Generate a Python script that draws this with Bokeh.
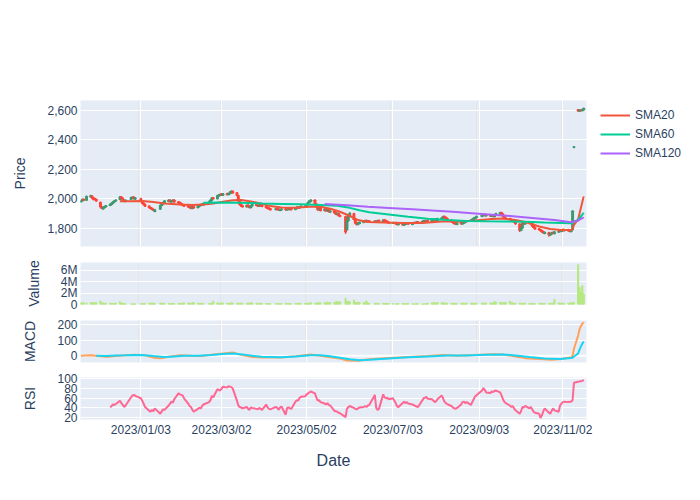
import pandas as pd
from bokeh.plotting import figure
from bokeh.layouts import column
from bokeh.models import (Range1d, FixedTicker, Grid, Legend, LegendItem,
                          NumeralTickFormatter, DatetimeTickFormatter, ColumnDataSource, Span)
from bokeh.embed import file_html
from bokeh.resources import INLINE

# ---------------- data ----------------
holidays = ["2022-11-24", "2022-12-26", "2023-01-02", "2023-01-16", "2023-02-20",
            "2023-04-07", "2023-05-29", "2023-06-19", "2023-07-04", "2023-09-04"]
dates = pd.bdate_range("2022-11-21", "2023-11-17", freq="C", holidays=holidays)

open_ = [
    1980, 1985, 1995, 1990, 2012, 2018, 2005,
    2000, 1995, 1975, 1945, 1932, 1940, 1946, 1955, 1962, 1970, 1978, 1985, 1995, 2012, 2003, 1988, 1983, 1995, 2005, 2010, 1998,
    2000, 1985, 1970, 1960, 1950, 1940, 1935, 1928, 1915, 1930, 1955, 1965, 1975, 1982, 1990, 1978, 1983, 1990, 1978, 1975,
    1968, 1962, 1956, 1952, 1946, 1942, 1935, 1946, 1940, 1948, 1955, 1963, 1958, 1966, 1978, 1990, 2006, 2000, 2018,
    2025, 2032, 2025, 2034, 2028, 2035, 2040, 2050, 2040, 2020, 1985, 1962, 1952, 1945, 1956, 1948, 1940, 1952, 1960, 1956, 1950, 1960, 1953,
    1948, 1942, 1936, 1932, 1926, 1934, 1929, 1921, 1925, 1931, 1924, 1932, 1926, 1933, 1928, 1935, 1943, 1938, 1944,
    1950, 1945, 1960, 1975, 1982, 1990, 1965, 1945, 1925, 1940, 1920, 1930, 1918, 1925, 1910, 1915, 1905, 1893, 1900, 1886, 1878, 1790,
    1850, 1885, 1898, 1860, 1838, 1826, 1833, 1840, 1848, 1853, 1844, 1850, 1841, 1850, 1844, 1853, 1847, 1856, 1851, 1846, 1841,
    1834, 1838, 1831, 1824, 1829, 1821, 1827, 1831, 1836, 1827, 1833, 1839, 1834, 1843, 1839, 1845, 1851, 1844, 1853, 1847,
    1853, 1856, 1863, 1854, 1864, 1869, 1880, 1873, 1866, 1856, 1846, 1840, 1834, 1827, 1838, 1829, 1835, 1839, 1845, 1849, 1854, 1859, 1866,
    1872, 1881, 1887, 1893, 1884, 1891, 1881, 1889, 1879, 1891, 1897, 1906, 1896, 1881, 1869, 1864, 1859, 1849, 1856, 1843,
    1828, 1786, 1801, 1836, 1829, 1843, 1834, 1837, 1816, 1806, 1796, 1791, 1783, 1776, 1766, 1770, 1754, 1761, 1771, 1764, 1774, 1782,
    1779, 1792, 1783, 1791, 1786, 1777, 1790, 2348, 2603, 2594, 2601, 2597, 2603,
]
close = [
    1985, 1995, 1990, 2015, 2020, 2005, 1995,
    1995, 1985, 1945, 1935, 1940, 1948, 1952, 1962, 1970, 1978, 1985, 1990, 2012, 2005, 1985, 1982, 1990, 2008, 2010, 2000, 2005,
    1985, 1970, 1960, 1950, 1940, 1935, 1928, 1922, 1925, 1955, 1965, 1975, 1985, 1990, 1980, 1985, 1990, 1978, 1972, 1968,
    1960, 1955, 1950, 1945, 1940, 1935, 1945, 1938, 1950, 1955, 1962, 1958, 1968, 1978, 1990, 2005, 2000, 2020, 2025,
    2030, 2025, 2032, 2028, 2035, 2045, 2050, 2040, 2022, 1985, 1960, 1950, 1945, 1955, 1948, 1940, 1952, 1960, 1955, 1950, 1958, 1952, 1948,
    1940, 1935, 1930, 1925, 1932, 1928, 1922, 1926, 1930, 1925, 1930, 1928, 1932, 1927, 1935, 1942, 1938, 1945, 1950,
    1945, 1960, 1975, 1985, 1990, 1965, 1945, 1925, 1940, 1920, 1930, 1918, 1925, 1912, 1915, 1905, 1895, 1900, 1885, 1880, 1775, 1850,
    1885, 1900, 1860, 1835, 1825, 1832, 1840, 1848, 1852, 1845, 1850, 1842, 1848, 1845, 1852, 1848, 1855, 1850, 1845, 1840, 1835,
    1838, 1830, 1825, 1828, 1822, 1826, 1830, 1835, 1828, 1832, 1838, 1835, 1842, 1840, 1846, 1850, 1845, 1852, 1848, 1855,
    1858, 1862, 1855, 1865, 1870, 1878, 1872, 1865, 1858, 1845, 1838, 1832, 1828, 1835, 1830, 1836, 1840, 1846, 1850, 1855, 1860, 1868, 1872,
    1880, 1888, 1892, 1885, 1890, 1882, 1888, 1880, 1892, 1898, 1905, 1895, 1880, 1868, 1862, 1858, 1850, 1855, 1842, 1830,
    1785, 1800, 1835, 1830, 1842, 1835, 1838, 1815, 1805, 1795, 1790, 1782, 1775, 1768, 1772, 1755, 1762, 1770, 1765, 1775, 1780, 1778,
    1788, 1784, 1790, 1782, 1778, 1785, 1915, 2352, 2596, 2600, 2598, 2604, 2612,
]
high = [
    1990, 2000, 2000, 2018, 2026, 2022, 2008,
    2004, 1998, 1978, 1948, 1943, 1951, 1956, 1965, 1973, 1981, 1988, 1994, 2016, 2016, 2006, 1990, 1993, 2011, 2014, 2013, 2009,
    2004, 1988, 1973, 1963, 1953, 1943, 1938, 1931, 1928, 1958, 1968, 1978, 1988, 1994, 1993, 1988, 1994, 1993, 1981, 1978,
    1971, 1965, 1959, 1955, 1949, 1945, 1948, 1949, 1953, 1958, 1965, 1966, 1971, 1981, 1993, 2008, 2010, 2023, 2030,
    2034, 2036, 2035, 2037, 2038, 2048, 2055, 2054, 2043, 2023, 1988, 1965, 1955, 1958, 1959, 1951, 1955, 1963, 1963, 1959, 1961, 1963, 1956,
    1951, 1945, 1939, 1935, 1935, 1937, 1932, 1929, 1933, 1934, 1933, 1935, 1935, 1936, 1938, 1945, 1946, 1948, 1953,
    1953, 1963, 1978, 1988, 1996, 1993, 1968, 1948, 1943, 1943, 1933, 1933, 1928, 1928, 1918, 1918, 1908, 1904, 1903, 1889, 1881, 1855,
    1888, 1908, 1902, 1863, 1841, 1835, 1843, 1851, 1855, 1856, 1853, 1853, 1851, 1853, 1855, 1856, 1858, 1859, 1854, 1849, 1844,
    1841, 1841, 1834, 1831, 1832, 1829, 1833, 1838, 1839, 1835, 1841, 1842, 1845, 1846, 1849, 1853, 1854, 1855, 1856, 1858,
    1861, 1865, 1866, 1868, 1873, 1881, 1884, 1876, 1869, 1859, 1849, 1843, 1837, 1838, 1841, 1839, 1843, 1849, 1853, 1858, 1863, 1871, 1875,
    1883, 1891, 1895, 1896, 1893, 1894, 1891, 1892, 1895, 1901, 1909, 1909, 1899, 1884, 1872, 1867, 1862, 1858, 1859, 1846,
    1832, 1803, 1838, 1839, 1845, 1846, 1841, 1840, 1819, 1809, 1799, 1794, 1786, 1779, 1775, 1773, 1765, 1773, 1774, 1778, 1783, 1785,
    1791, 1795, 1793, 1794, 1789, 1788, 1922, 2353, 2606, 2604, 2604, 2607, 2615,
]
low = [
    1975, 1980, 1986, 1987, 2008, 2002, 1990,
    1992, 1982, 1942, 1930, 1929, 1937, 1943, 1952, 1959, 1967, 1975, 1982, 1992, 2002, 1982, 1978, 1980, 1992, 2002, 1997, 1995,
    1982, 1966, 1957, 1947, 1937, 1931, 1924, 1918, 1912, 1927, 1952, 1962, 1972, 1979, 1977, 1975, 1980, 1975, 1968, 1964,
    1957, 1952, 1947, 1942, 1937, 1932, 1932, 1935, 1937, 1945, 1952, 1955, 1955, 1963, 1975, 1987, 1997, 1997, 2015,
    2021, 2022, 2022, 2025, 2025, 2032, 2037, 2037, 2019, 1982, 1957, 1947, 1942, 1942, 1945, 1937, 1937, 1949, 1952, 1947, 1947, 1949, 1945,
    1937, 1932, 1927, 1922, 1923, 1925, 1919, 1918, 1922, 1922, 1921, 1925, 1923, 1924, 1925, 1932, 1935, 1935, 1941,
    1942, 1942, 1957, 1972, 1979, 1962, 1942, 1922, 1922, 1917, 1917, 1915, 1915, 1909, 1907, 1902, 1892, 1890, 1882, 1877, 1760, 1785,
    1847, 1882, 1857, 1832, 1821, 1823, 1830, 1837, 1845, 1842, 1841, 1839, 1838, 1842, 1841, 1845, 1844, 1847, 1842, 1837, 1832,
    1831, 1827, 1822, 1821, 1819, 1818, 1824, 1828, 1825, 1824, 1830, 1832, 1831, 1837, 1836, 1842, 1842, 1841, 1845, 1844,
    1850, 1853, 1852, 1851, 1861, 1866, 1869, 1862, 1855, 1842, 1835, 1829, 1825, 1824, 1827, 1826, 1832, 1836, 1842, 1846, 1851, 1856, 1863,
    1869, 1878, 1884, 1882, 1881, 1879, 1878, 1877, 1876, 1888, 1894, 1892, 1877, 1865, 1859, 1855, 1847, 1846, 1839, 1827,
    1775, 1782, 1798, 1827, 1826, 1832, 1831, 1812, 1802, 1792, 1787, 1779, 1772, 1765, 1763, 1742, 1750, 1758, 1762, 1761, 1771, 1775,
    1776, 1781, 1780, 1779, 1775, 1774, 1787, 2347, 2592, 2591, 2595, 2594, 2600,
]
volume_m = [
    0.30, 0.33, 0.28, 0.25, 0.34, 0.30, 0.36,
    0.30, 0.32, 0.60, 0.35, 0.25, 0.22, 0.20, 0.22, 0.18, 0.20, 0.22, 0.25, 0.48, 0.25, 0.22, 0.20, 0.15, 0.10, 0.12, 0.10, 0.12,
    0.15, 0.18, 0.20, 0.22, 0.25, 0.22, 0.28, 0.24, 0.20, 0.26, 0.22, 0.24, 0.20, 0.18, 0.16, 0.20, 0.22, 0.18, 0.16, 0.20,
    0.22, 0.25, 0.30, 0.28, 0.24, 0.22, 0.32, 0.30, 0.25, 0.20, 0.22, 0.18, 0.16, 0.20, 0.22, 0.26, 0.60, 0.30, 0.25,
    0.22, 0.25, 0.28, 0.24, 0.22, 0.26, 0.30, 0.28, 0.25, 0.22, 0.24, 0.26, 0.22, 0.20, 0.24, 0.22, 0.35, 0.26, 0.22, 0.20, 0.24, 0.22, 0.20,
    0.18, 0.20, 0.16, 0.15, 0.18, 0.20, 0.16, 0.14, 0.18, 0.20, 0.22, 0.18, 0.16, 0.15, 0.18, 0.20, 0.22, 0.20, 0.18,
    0.20, 0.22, 0.25, 0.20, 0.35, 0.22, 0.25, 0.30, 0.32, 0.28, 0.35, 0.30, 0.40, 0.35, 0.32, 0.38, 0.45, 0.55, 0.40, 0.48, 1.10, 0.55,
    0.60, 0.50, 0.78, 0.40, 0.35, 0.42, 0.38, 0.32, 0.35, 0.60, 0.28, 0.22, 0.20, 0.22, 0.18, 0.20, 0.22, 0.18, 0.20, 0.16, 0.18,
    0.16, 0.12, 0.15, 0.18, 0.20, 0.16, 0.15, 0.18, 0.14, 0.12, 0.10, 0.12, 0.14, 0.16, 0.10, 0.12, 0.15, 0.18, 0.20, 0.28,
    0.30, 0.32, 0.28, 0.35, 0.30, 0.32, 0.28, 0.25, 0.22, 0.20, 0.24, 0.22, 0.20, 0.18, 0.22, 0.24, 0.20, 0.22, 0.24, 0.20, 0.25, 0.22, 0.24,
    0.22, 0.25, 0.28, 0.24, 0.22, 0.25, 0.28, 0.30, 0.55, 0.35, 0.38, 0.32, 0.30, 0.35, 0.35, 0.60, 0.30, 0.28, 0.25, 0.22,
    0.25, 0.22, 0.20, 0.24, 0.22, 0.20, 0.18, 0.22, 0.20, 0.18, 0.16, 0.20, 0.22, 0.18, 0.20, 0.20, 0.18, 0.22, 0.25, 0.90, 0.28, 0.22,
    0.25, 0.22, 0.20, 0.22, 0.25, 0.30, 0.38, 0.35, 7.00, 3.00, 2.20, 3.30, 1.90,
]
rsi_first = "2022-12-12"
rsi = [
    41, 44, 47, 46, 48, 55, 50, 46, 42, 45, 62, 66, 67, 65,
    60, 55, 49, 42, 34, 32, 36, 33, 39, 28, 33, 37, 36, 45, 49, 53, 51, 58, 70, 68,
    67, 66, 60, 49, 44, 42, 36, 32, 38, 40, 39, 44, 47, 52, 56, 65, 62, 79, 77,
    76, 80, 84, 82, 85, 84, 83, 80, 55, 45, 42, 41, 39, 42, 38, 36, 41, 40, 38, 37, 40, 38, 36,
    47, 41, 38, 37, 42, 40, 36, 41, 43, 26, 40, 41, 39, 38, 53, 56, 55, 61, 63,
    64, 68, 70, 72, 74, 70, 62, 55, 56, 52, 49, 47, 50, 46, 45, 34, 33, 32, 30, 29, 21, 38,
    42, 44, 40, 38, 37, 39, 41, 42, 44, 42, 45, 46, 67, 40, 36, 38, 68, 62, 60, 61, 58,
    60, 50, 43, 42, 50, 53, 50, 52, 49, 47, 46, 44, 43, 42, 55, 60, 61, 63, 59, 58,
    55, 52, 54, 58, 66, 60, 53, 50, 48, 44, 41, 39, 38, 40, 47, 52, 53, 50, 52, 46, 52, 58, 64,
    66, 76, 81, 77, 72, 71, 74, 73, 75, 76, 72, 66, 58, 53, 50, 45, 42, 44, 39, 35,
    28, 33, 42, 41, 44, 39, 42, 37, 32, 30, 28, 19, 25, 33, 39, 30, 28, 34, 39, 35, 32, 45,
    49, 52, 53, 52, 53, 53, 56, 92, 94, 95, 95, 96, 98,
]

sma20_dates = ["2022-12-19", "2022-12-27", "2023-01-04", "2023-01-12", "2023-01-20", "2023-01-31",
               "2023-02-09", "2023-02-17", "2023-02-24", "2023-03-03", "2023-03-10", "2023-03-16",
               "2023-03-23", "2023-03-30", "2023-04-06", "2023-04-14", "2023-04-24", "2023-05-04",
               "2023-05-12", "2023-05-19", "2023-05-25", "2023-06-01", "2023-06-08", "2023-06-15",
               "2023-06-26", "2023-07-10", "2023-07-24", "2023-08-07", "2023-08-21", "2023-08-31",
               "2023-09-12", "2023-09-20", "2023-09-29", "2023-10-06", "2023-10-16", "2023-10-24",
               "2023-11-01", "2023-11-08", "2023-11-09", "2023-11-10", "2023-11-13", "2023-11-14",
               "2023-11-15", "2023-11-16", "2023-11-17"]
sma20 = [1982, 1982, 1985, 1978, 1968, 1960, 1958, 1960, 1968, 1980, 1990, 1992, 1982, 1968,
         1950, 1940, 1938, 1945, 1945, 1932, 1915, 1888, 1855, 1842, 1838, 1835, 1835, 1845,
         1845, 1852, 1862, 1866, 1855, 1842, 1812, 1795, 1788, 1788, 1795, 1823, 1860, 1900,
         1938, 1977, 2015]

sma60_dates = ["2023-02-17", "2023-03-01", "2023-03-15", "2023-03-31", "2023-04-14", "2023-04-28",
               "2023-05-12", "2023-05-24", "2023-06-02", "2023-06-09", "2023-06-16", "2023-06-30",
               "2023-07-14", "2023-07-28", "2023-08-11", "2023-08-25", "2023-09-08", "2023-09-22",
               "2023-10-06", "2023-10-20", "2023-11-01", "2023-11-08", "2023-11-09", "2023-11-10",
               "2023-11-13", "2023-11-14", "2023-11-15", "2023-11-16", "2023-11-17"]
sma60 = [1972, 1974, 1972, 1968, 1965, 1962, 1958, 1952, 1938, 1922, 1908, 1893, 1877, 1864,
         1855, 1849, 1847, 1846, 1843, 1839, 1836, 1834, 1836, 1845, 1856, 1868, 1880, 1892, 1905]

sma120_dates = ["2023-05-15", "2023-05-31", "2023-06-15", "2023-06-30", "2023-07-17", "2023-07-31",
                "2023-08-15", "2023-08-31", "2023-09-15", "2023-09-29", "2023-10-13", "2023-10-27",
                "2023-11-08", "2023-11-09", "2023-11-10", "2023-11-13", "2023-11-14", "2023-11-15",
                "2023-11-16", "2023-11-17"]
sma120 = [1965, 1955, 1945, 1937, 1928, 1920, 1911, 1900, 1890, 1880, 1868, 1855, 1841, 1842,
          1846, 1852, 1858, 1864, 1869, 1874]

macd_dates = ["2022-11-21", "2022-11-28", "2022-12-05", "2022-12-09", "2022-12-16", "2022-12-23",
              "2022-12-30", "2023-01-06", "2023-01-12", "2023-01-17", "2023-01-23", "2023-01-31",
              "2023-02-08", "2023-02-16", "2023-02-24", "2023-03-03", "2023-03-10", "2023-03-16",
              "2023-03-24", "2023-03-31", "2023-04-14", "2023-04-24", "2023-05-05", "2023-05-12",
              "2023-05-19", "2023-05-26", "2023-05-31", "2023-06-08", "2023-06-16", "2023-06-30",
              "2023-07-14", "2023-07-28", "2023-08-08", "2023-08-18", "2023-08-31", "2023-09-12",
              "2023-09-20", "2023-09-29", "2023-10-06", "2023-10-16", "2023-10-25", "2023-11-01",
              "2023-11-08", "2023-11-09", "2023-11-10", "2023-11-13", "2023-11-14", "2023-11-15",
              "2023-11-16", "2023-11-17"]
macd = [0, 4, -3, -7, -2, 3, 6, 3, -12, -16, -6, 4, 0, -1, 9, 15, 21, 6, -8, -11, -11, -3, 8, 0,
        -10, -18, -30, -32, -22, -14, -8, -2, 5, 0, 5, 10, 8, -5, -15, -20, -25, -20, -10, 0,
        45, 130, 170, 190, 205, 215]

signal_dates = ["2022-12-02", "2022-12-09", "2022-12-16", "2022-12-23", "2023-01-03", "2023-01-12",
                "2023-01-20", "2023-01-27", "2023-02-03", "2023-02-13", "2023-02-23", "2023-03-03",
                "2023-03-10", "2023-03-17", "2023-03-24", "2023-03-31", "2023-04-14", "2023-04-24",
                "2023-05-05", "2023-05-12", "2023-05-19", "2023-05-26", "2023-06-02", "2023-06-09",
                "2023-06-16", "2023-06-30", "2023-07-14", "2023-07-28", "2023-08-11", "2023-08-25",
                "2023-09-08", "2023-09-20", "2023-09-29", "2023-10-09", "2023-10-20", "2023-10-31",
                "2023-11-08", "2023-11-09", "2023-11-10", "2023-11-13", "2023-11-14", "2023-11-15",
                "2023-11-16", "2023-11-17"]
signal = [0, -2, 2, 3, 5, -2, -8, -4, 0, 0, 5, 11, 15, 9, 0, -6, -9, -5, 3, 3, -3, -12, -22, -28,
          -25, -17, -10, -4, 2, 2, 6, 9, 2, -8, -17, -20, -14, -12, -5, 15, 40, 60, 78, 92]

tick_dates = ["2023-01-03", "2023-03-02", "2023-05-02", "2023-07-03", "2023-09-03", "2023-11-02"]
tick_labels = ["2023/01/03", "2023/03/02", "2023/05/02", "2023/07/03", "2023/09/03", "2023/11/02"]

# ---------------- styling ----------------
FONT = "Liberation Sans"
TXT = "#2a3f5f"
BG = "#E5ECF6"
DAY = 86400000.0

n = min(len(dates), len(open_), len(close), len(high), len(low))
xs = dates[:n]
cols = ["#3D9970" if c >= o else "#FF4136" for o, c in zip(open_[:n], close[:n])]
csrc = ColumnDataSource(dict(x=xs, o=open_[:n], c=close[:n], h=high[:n], l=low[:n], col=cols))

xr = Range1d(start=pd.Timestamp("2022-11-20 16:00"), end=pd.Timestamp("2023-11-19 00:00"))
xticks = [pd.Timestamp(d).value / 1e6 for d in tick_dates]


def make(fh, yr, top, bottom, with_x=False):
    p = figure(frame_width=506, frame_height=fh, x_range=xr, y_range=yr,
               x_axis_type="datetime", x_axis_location="below" if with_x else None,
               toolbar_location=None, output_backend="svg",
               background_fill_color=BG, border_fill_color="white", outline_line_color=None,
               min_border_left=80, min_border_right=114, min_border_top=top, min_border_bottom=bottom)
    p.ygrid.grid_line_color = "white"
    p.ygrid.grid_line_width = 1
    return p


def style_axis(ax, label, standoff):
    ax.axis_label = label
    ax.axis_label_text_font = FONT
    ax.axis_label_text_font_size = "14px"
    ax.axis_label_text_font_style = "normal"
    ax.axis_label_text_color = TXT
    ax.major_label_text_font = FONT
    ax.major_label_text_font_size = "12px"
    ax.major_label_text_color = TXT
    ax.axis_line_color = None
    ax.major_tick_line_color = None
    ax.minor_tick_line_color = None
    ax.major_tick_out = 0
    ax.major_tick_in = 0
    ax.major_label_standoff = 3
    ax.axis_label_standoff = standoff


def add_xgrid(p):
    p.add_layout(Grid(dimension=0, ticker=FixedTicker(ticks=xticks),
                      grid_line_color="white", grid_line_width=1))


# price panel
p1 = make(146, Range1d(1676, 2666), 100, 8)
add_xgrid(p1)
p1.segment(x0="x", y0="l", x1="x", y1="h", color="col", line_width=1.3, source=csrc)
p1.vbar(x="x", width=0.8 * DAY, top="o", bottom="c", fill_color="col", line_color="col",
        line_width=1.8, source=csrc)
l20 = p1.line(pd.to_datetime(sma20_dates), sma20, color="#EF553B", line_width=2)
l60 = p1.line(pd.to_datetime(sma60_dates), sma60, color="#00CC96", line_width=2)
l120 = p1.line(pd.to_datetime(sma120_dates), sma120, color="#AB63FA", line_width=2)
p1.yaxis.ticker = FixedTicker(ticks=[1800, 2000, 2200, 2400, 2600])
p1.yaxis.formatter = NumeralTickFormatter(format="0,0")
style_axis(p1.yaxis[0], "Price", 16)
legend = Legend(items=[LegendItem(label="SMA20", renderers=[l20]),
                       LegendItem(label="SMA60", renderers=[l60]),
                       LegendItem(label="SMA120", renderers=[l120])],
                location=(14, 85), orientation="vertical", border_line_color=None,
                background_fill_alpha=0, label_text_font=FONT, label_text_font_size="12px",
                label_text_color=TXT, glyph_width=30, glyph_height=16, label_height=16,
                label_standoff=5, spacing=3, padding=0, margin=0)
p1.add_layout(legend, "right")

# volume panel
p2 = make(42, Range1d(0, 7.4), 8, 8)
p2.vbar(x=dates[:len(volume_m)], top=volume_m, width=0.8 * DAY, color="#B6E880")
p2.yaxis.ticker = FixedTicker(ticks=[0, 2, 4, 6])
p2.yaxis.major_label_overrides = {0: "0", 2: "2M", 4: "4M", 6: "6M"}
style_axis(p2.yaxis[0], "Valume", 16)

# MACD panel
p3 = make(42, Range1d(-43, 226), 8, 7)
add_xgrid(p3)
p3.add_layout(Span(location=0, dimension="width", line_color="white", line_width=2, level="underlay"))
p3.line(pd.to_datetime(macd_dates), macd, color="#FFA15A", line_width=2)
p3.line(pd.to_datetime(signal_dates), signal, color="#19D3F3", line_width=2)
p3.yaxis.ticker = FixedTicker(ticks=[0, 100, 200])
style_axis(p3.yaxis[0], "MACD", 16)

# RSI panel
p4 = make(42, Range1d(16, 103), 8, 81, with_x=True)
i0 = list(dates).index(pd.Timestamp(rsi_first))
p4.line(dates[i0:i0 + len(rsi)], rsi[:len(dates) - i0], color="#FF6692", line_width=2)
p4.yaxis.ticker = FixedTicker(ticks=[20, 40, 60, 80, 100])
style_axis(p4.yaxis[0], "RSI", 16)
p4.xaxis.ticker = FixedTicker(ticks=xticks)
p4.xaxis.formatter = DatetimeTickFormatter(days="%Y/%m/%d", months="%Y/%m/%d", years="%Y/%m/%d",
                                           hours="%Y/%m/%d", context=None)
style_axis(p4.xaxis[0], "Date", 12)
p4.xaxis.axis_label_text_font_size = "16px"
p4.xgrid.grid_line_color = "white"
p4.xgrid.grid_line_width = 1

layout = column(p1, p2, p3, p4, spacing=0)
open("out.html", "w").write(file_html(layout, INLINE))
